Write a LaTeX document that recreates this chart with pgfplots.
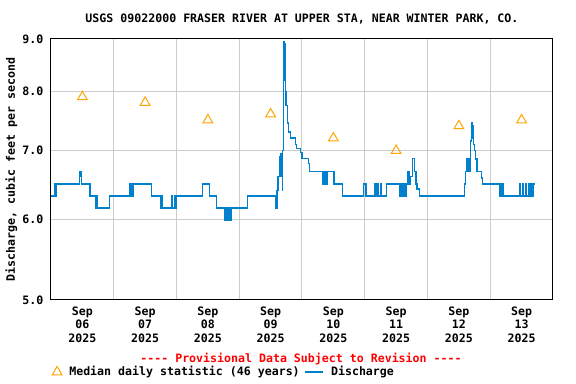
\documentclass[border=0pt]{standalone}
\usepackage{fontspec}
\usepackage{pgfplots}
\pgfplotsset{compat=1.18}
\setmainfont{DejaVu Sans}
\newfontfamily\monob{DejaVu Sans Mono}
\definecolor{qblue}{RGB}{0,128,205}
\definecolor{qorange}{RGB}{255,165,0}
\definecolor{qgrid}{RGB}{204,204,204}
\newcommand{\mf}{\fontsize{8.7pt}{10pt}\monob\bfseries}
\pgfplotsset{
  trilegend/.style={legend image code/.code={\draw[mark repeat=2,mark phase=2,##1] plot coordinates {(0cm,0cm)(0.2cm,0cm)(0.4cm,0cm)};}},
  linelegend/.style={legend image code/.code={\draw[##1] (0pt,0pt) -- (13.5pt,0pt);}},
}
\begin{document}
\begin{tikzpicture}
\useasboundingbox (0,0) rectangle (432pt,288pt);
\begin{axis}[
  at={(38.25pt,63pt)}, anchor=south west,
  scale only axis, width=376.5pt, height=195.75pt,
  xmin=0, xmax=8, ymode=log, ymin=5, ymax=9,
  axis line style={line width=0.75pt},
  xtick={0.5,1.5,...,7.5},
  xticklabels={{Sep\\06\\2025},{Sep\\07\\2025},{Sep\\08\\2025},{Sep\\09\\2025},{Sep\\10\\2025},{Sep\\11\\2025},{Sep\\12\\2025},{Sep\\13\\2025}},
  minor xtick={1,2,...,7},
  xminorgrids=true,
  minor x tick style={draw=none},
  major x tick style={draw=none},
  ytick={5,6,7,8,9},
  yticklabels={5.0,6.0,7.0,8.0,9.0},
  ymajorgrids=true,
  yminorticks=false,
  major y tick style={draw=none},
  grid style={qgrid, line width=0.75pt},
  minor grid style={qgrid, line width=0.75pt},
  x tick label style={font=\mf, align=center, anchor=north, inner sep=0pt, yshift=-5pt},
  y tick label style={font=\mf, anchor=east, inner sep=0pt, xshift=-5.5pt},
  ylabel={Discharge, cubic feet per second},
  every axis y label/.style={at={(axis description cs:-0.079,0.5)}, rotate=90, anchor=center, font=\mf},
  title={USGS 09022000 FRASER RIVER AT UPPER STA, NEAR WINTER PARK, CO.},
  every axis title/.style={at={(axis description cs:0.5,1.077)}, anchor=center, font=\mf},
  legend columns=2,
  legend style={at={(axis description cs:-0.006,-0.276)}, anchor=west, draw=none, fill=none, font=\mf,
    /tikz/every even column/.append style={column sep=2.5pt},
    /tikz/every odd column/.append style={column sep=4.5pt},
    nodes={inner sep=1pt}},
  clip=false,
]
\addlegendimage{only marks, mark=triangle, mark size=4.2pt, qorange, mark options={line width=0.75pt}, trilegend}
\addlegendentry{Median daily statistic (46 years)}
\addlegendimage{qblue, line width=1pt, linelegend}
\addlegendentry{Discharge}
\addplot[qblue, line width=1pt, const plot, forget plot] coordinates {
(0.000,6.32) (0.060,6.49) (0.075,6.32) (0.090,6.49) (0.45,6.60) (0.46,6.68) (0.49,6.49)
(0.61,6.32) (0.62,6.49) (0.63,6.32) (0.717,6.15) (0.73,6.32) (0.74,6.15) (0.93,6.32)
(1.248,6.49) (1.26,6.32) (1.28,6.49) (1.30,6.32) (1.32,6.49) (1.604,6.32)
(1.748,6.15) (1.76,6.32) (1.78,6.15) (1.92,6.32) (1.94,6.15) (1.97,6.32) (1.99,6.15) (2.00,6.32)
(2.417,6.49) (2.523,6.32) (2.64,6.15) (2.773,5.98) (2.79,6.15) (2.81,5.98) (2.83,6.15) (2.85,5.98) (2.87,6.15)
(3.13,6.32) (3.58,6.15) (3.60,6.40) (3.62,6.60) (3.645,6.90) (3.655,6.60) (3.665,6.95) (3.675,6.65)
(3.685,6.40) (3.69,7.00) (3.70,7.70) (3.71,8.50) (3.715,8.95) (3.72,8.20) (3.725,8.90) (3.735,8.00)
(3.745,7.75) (3.77,7.45) (3.79,7.30) (3.82,7.20) (3.90,7.10) (3.915,7.03) (3.98,6.97) (4.00,6.88)
(4.10,6.80) (4.12,6.68) (4.33,6.49) (4.34,6.68) (4.35,6.49) (4.36,6.68) (4.37,6.49) (4.39,6.68)
(4.40,6.49) (4.41,6.68) (4.51,6.49) (4.65,6.32) (4.98,6.49) (5.02,6.32) (5.16,6.49) (5.17,6.32)
(5.18,6.49) (5.19,6.32) (5.21,6.49) (5.22,6.32) (5.26,6.49) (5.27,6.32) (5.35,6.49) (5.56,6.32)
(5.57,6.49) (5.58,6.32) (5.60,6.49) (5.61,6.32) (5.63,6.49) (5.64,6.32) (5.66,6.49) (5.69,6.68)
(5.71,6.49) (5.73,6.60) (5.765,6.88) (5.795,6.68) (5.815,6.49) (5.835,6.42) (5.87,6.32)
(6.59,6.49) (6.61,6.68) (6.63,6.88) (6.66,6.68) (6.69,7.15) (6.70,7.45) (6.715,7.20) (6.72,7.40)
(6.73,7.10) (6.75,7.00) (6.76,6.87) (6.79,6.68) (6.86,6.58) (6.88,6.49) (7.155,6.32) (7.17,6.49)
(7.19,6.32) (7.20,6.49) (7.215,6.32) (7.47,6.49) (7.48,6.32) (7.52,6.49) (7.53,6.32) (7.57,6.49)
(7.58,6.32) (7.61,6.49) (7.62,6.32) (7.64,6.49) (7.66,6.32) (7.68,6.49) (7.71,6.49)
};
\addplot[only marks, mark=triangle, mark size=4.2pt, qorange, mark options={line width=0.75pt}, forget plot] coordinates {
(0.5,7.9) (1.5,7.8) (2.5,7.5) (3.5,7.6) (4.5,7.2) (5.5,7.0) (6.5,7.4) (7.5,7.5)
};
\node[font=\mf, text=red, anchor=center] at (axis description cs:0.498,-0.226) {---- Provisional Data Subject to Revision ----};
\end{axis}
\end{tikzpicture}
\end{document}
